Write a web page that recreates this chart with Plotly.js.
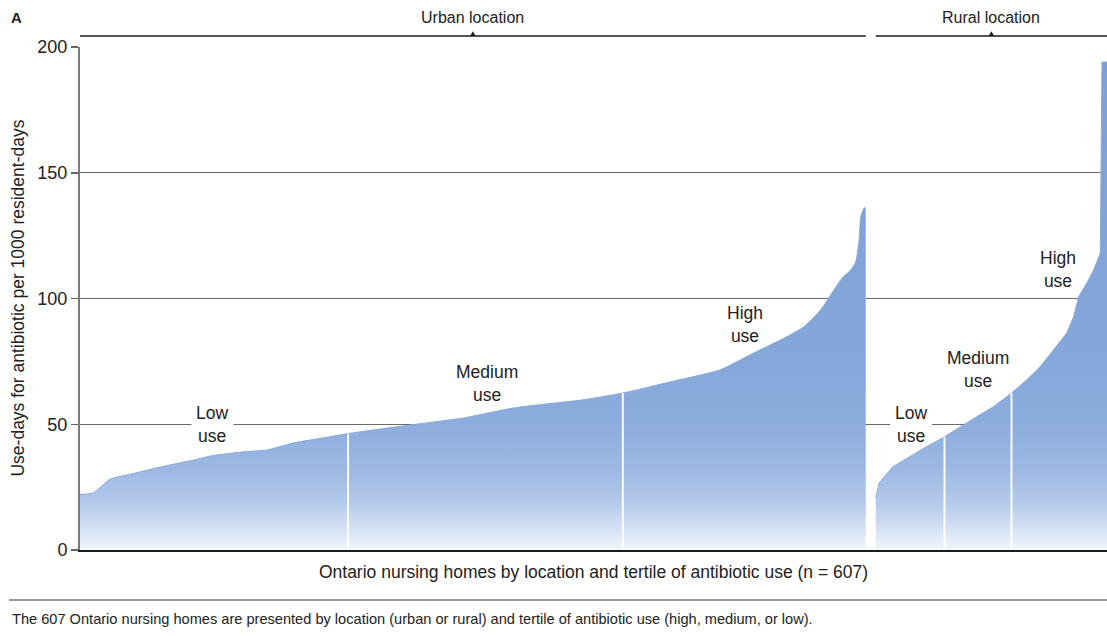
<!DOCTYPE html>
<html>
<head>
<meta charset="utf-8">
<script src="https://cdn.plot.ly/plotly-3.0.1.min.js"></script>
<style>
  html, body { margin: 0; padding: 0; background: #ffffff; }
  #chart { width: 1107px; height: 636px; }
</style>
</head>
<body>
<div id="chart"></div>
<script>
// Homes sorted by antibiotic use, urban then rural, placed on one shared rank scale
const urbanRank = [0, 8, 18, 28, 48, 68, 78, 97, 112, 127, 148, 160, 197, 229, 259, 299, 324,
                   352, 382, 402, 418, 432, 442, 450, 455, 460, 463, 465, 466, 468, 469];
const urbanUse  = [22, 22.7, 28.2, 29.8, 33, 35.8, 37.4, 39, 39.8, 42.5, 44.9, 46.3, 49.7, 52.5, 56.5, 59.6, 62.4,
                   66.8, 71.6, 78.3, 83.5, 88.7, 95.4, 103.4, 108.2, 111.3, 114.5, 123, 132.4, 136, 136];

const ruralRank = [475, 477, 485, 495, 505, 516, 525, 535, 545, 556, 565,
                   573, 581, 589, 593, 596, 601, 605, 609, 610, 613];
const ruralUse  = [20.7, 26.6, 33, 37, 41, 45, 48.9, 52.9, 56.9, 62.4, 67.6,
                   72.8, 79.5, 86.3, 92.6, 100.6, 106.2, 111.3, 118, 194, 194];

// Index of the point where each tertile ends (low|medium, medium|high)
const urbanTertileBreaks = [11, 16];
const ruralTertileBreaks = [5, 9];

const yTicks = [0, 50, 100, 150, 200];
const tertileNames = ['Low<br>use', 'Medium<br>use', 'High<br>use'];
const locationNames = ['Urban location', 'Rural location'];

const FONT = 'Liberation Sans, Arial, Helvetica, sans-serif';
const INK = '#222222';

// Blue fill fading to white towards the baseline
const fade = {
  type: 'vertical',
  start: 0,
  stop: 200,
  colorscale: [
    [0, '#f2f6fc'], [0.04, '#d7e2f4'], [0.09, '#b6cbeb'], [0.16, '#9db8e3'],
    [0.25, '#8dadde'], [0.4, '#85a6d9'], [1, '#7e9fd3']
  ]
};

function areaTrace(x, y, shape) {
  return {
    x: x, y: y, type: 'scatter', mode: 'lines',
    line: {color: '#89a9db', width: 1, shape: shape, smoothing: 0.5},
    fill: 'tozeroy', fillgradient: fade,
    hoverinfo: 'skip'
  };
}

function breakTraces(x, y, idx) {
  return idx.map(i => ({
    x: [x[i], x[i]], y: [0, y[i]], type: 'scatter', mode: 'lines',
    line: {color: 'rgba(255,255,255,0.95)', width: 2},
    hoverinfo: 'skip'
  }));
}

const data = [
  areaTrace(urbanRank, urbanUse, 'spline'),
  areaTrace(ruralRank, ruralUse, 'linear'),
  ...breakTraces(urbanRank, urbanUse, urbanTertileBreaks),
  ...breakTraces(ruralRank, ruralUse, ruralTertileBreaks)
];

// Where the tertile captions sit inside each block, and how wide their gridline gap is
const urbanLabelAt = [[79, 50], [243, 66.4], [397, 89.5]];
const ruralLabelAt = [[496, 50], [536, 71.6], [584, 111.5]];
const labelHalfWidth = [12.5, 20, 12.5];

function tertileAnnotations(spots) {
  return spots.map((p, k) => ({
    x: p[0], y: p[1], xref: 'x', yref: 'y',
    text: tertileNames[k], showarrow: false,
    font: {family: FONT, size: 17.5, color: INK}, align: 'center'
  }));
}

// White patches that break the gridlines behind the captions but stay under the fill
function tertileMasks(spots) {
  return spots.map((p, k) => ({
    type: 'rect', xref: 'x', yref: 'y', layer: 'between',
    x0: p[0] - labelHalfWidth[k], x1: p[0] + labelHalfWidth[k],
    y0: p[1] - 4.5, y1: p[1] + 4.5,
    fillcolor: '#ffffff', line: {width: 0}
  }));
}

const bracketY = 1.0219;
const labelY = 1.0596;

function bracket(x0, x1) {
  const mid = (x0 + x1) / 2;
  return [
    {type: 'line', xref: 'x', yref: 'paper', x0: x0, x1: x1, y0: bracketY, y1: bracketY,
     line: {color: '#1a1a1a', width: 1.6}},
    {type: 'path', xref: 'x', yref: 'paper',
     path: `M ${mid - 1.6},${bracketY} L ${mid},${bracketY + 0.0095} L ${mid + 1.6},${bracketY} Z`,
     fillcolor: '#1a1a1a', line: {width: 0}}
  ];
}

const uFirst = urbanRank[0], uLast = urbanRank[urbanRank.length - 1];
const rFirst = ruralRank[0], rLast = ruralRank[ruralRank.length - 1];

const layout = {
  width: 1107, height: 636,
  margin: {l: 80, r: 0, t: 47, b: 86, pad: 0},
  paper_bgcolor: '#ffffff', plot_bgcolor: '#ffffff',
  showlegend: false,
  font: {family: FONT, size: 17, color: INK},
  xaxis: {
    range: [0, 613], showline: true, linecolor: '#1c1c1c', linewidth: 2,
    showgrid: false, zeroline: false, showticklabels: false, ticks: '',
    fixedrange: true,
    title: {
      text: 'Ontario nursing homes by location and tertile of antibiotic use (n = 607)',
      font: {family: FONT, size: 17.5, color: INK}, standoff: 15
    }
  },
  yaxis: {
    range: [0, 200], tickvals: yTicks, ticktext: yTicks.map(String),
    showline: true, linecolor: '#7a7a7a', linewidth: 2,
    ticks: 'outside', ticklen: 7, tickwidth: 1.5, tickcolor: '#666666',
    tickfont: {family: FONT, size: 18, color: INK},
    showgrid: true, gridcolor: '#6a6a6a', gridwidth: 1,
    zeroline: false, fixedrange: true
  },
  shapes: [
    ...tertileMasks(urbanLabelAt),
    ...tertileMasks(ruralLabelAt),
    ...bracket(uFirst, uLast),
    ...bracket(rFirst, rLast),
    {type: 'line', xref: 'paper', yref: 'paper', x0: -0.0691, x1: 1, y0: -0.0994, y1: -0.0994,
     line: {color: '#7a7a7a', width: 1.5}}
  ],
  annotations: [
    ...tertileAnnotations(urbanLabelAt),
    ...tertileAnnotations(ruralLabelAt),
    {x: (uFirst + uLast) / 2, y: labelY, xref: 'x', yref: 'paper', yanchor: 'middle',
     text: locationNames[0], showarrow: false, font: {family: FONT, size: 16, color: INK}},
    {x: (rFirst + rLast) / 2, y: labelY, xref: 'x', yref: 'paper', yanchor: 'middle',
     text: locationNames[1], showarrow: false, font: {family: FONT, size: 16, color: INK}},
    {x: -0.0691, y: labelY, xref: 'paper', yref: 'paper', xanchor: 'left', yanchor: 'middle',
     text: '<b>A</b>', showarrow: false, font: {family: FONT, size: 15, color: INK}},
    {x: -0.0613, y: 0.5, xref: 'paper', yref: 'paper', xanchor: 'center', yanchor: 'middle',
     textangle: -90, text: 'Use-days for antibiotic per 1000 resident-days',
     showarrow: false, font: {family: FONT, size: 17.5, color: INK}},
    {x: -0.0682, y: -0.137, xref: 'paper', yref: 'paper', xanchor: 'left', yanchor: 'middle',
     text: 'The 607 Ontario nursing homes are presented by location (urban or rural) and tertile of antibiotic use (high, medium, or low).',
     showarrow: false, font: {family: FONT, size: 14.6, color: INK}}
  ]
};

Plotly.newPlot('chart', data, layout, {displayModeBar: false, staticPlot: true});
</script>
</body>
</html>
